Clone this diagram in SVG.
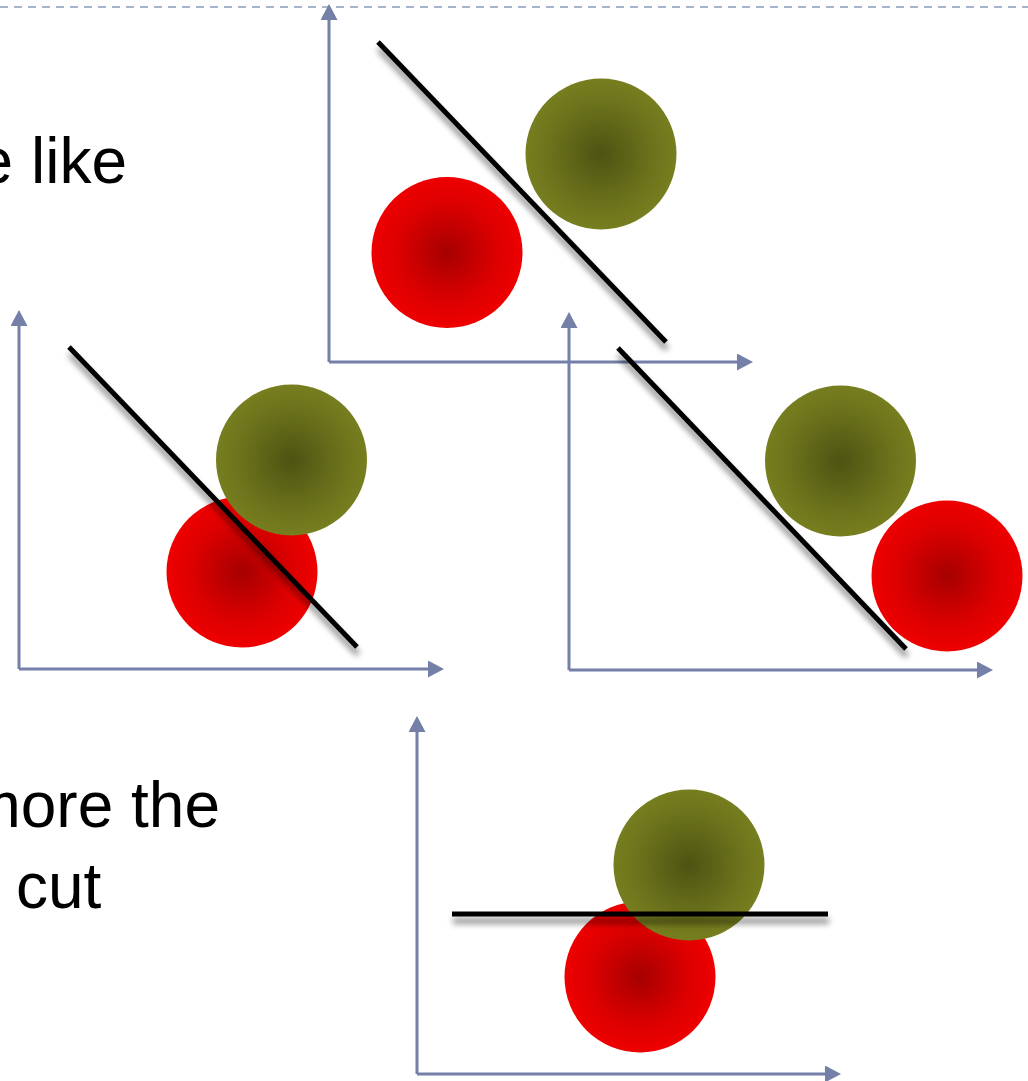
<svg xmlns="http://www.w3.org/2000/svg" width="1028" height="1081" viewBox="0 0 1028 1081">
  <style>
    .axis { stroke: #7480A8; stroke-width: 3; fill: none; marker-end: url(#arrow); }
    .sep { stroke: #000; stroke-width: 5; fill: none; filter: url(#shadow); }
    .red { fill: url(#gRed); }
    .green { fill: url(#gGreen); }
    .txt { font-family: "Liberation Sans", Arial, sans-serif; font-size: 64px; fill: #000; }
  </style>
  <defs>
    <marker id="arrow" viewBox="0 0 16 17" refX="5" refY="8.5" markerWidth="16" markerHeight="17" markerUnits="userSpaceOnUse" orient="auto">
      <path d="M0,0 L16,8.5 L0,17 z" fill="#7480A8"/>
    </marker>
    <radialGradient id="gRed" cx="0.5" cy="0.5" r="0.5">
      <stop offset="0" stop-color="#a60000"/>
      <stop offset="0.65" stop-color="#dc0000"/>
      <stop offset="1" stop-color="#ee0000"/>
    </radialGradient>
    <radialGradient id="gGreen" cx="0.5" cy="0.5" r="0.5">
      <stop offset="0" stop-color="#4d5312"/>
      <stop offset="0.65" stop-color="#6a711b"/>
      <stop offset="1" stop-color="#777e1f"/>
    </radialGradient>
    <filter id="shadow" x="0" y="0" width="1028" height="1081" filterUnits="userSpaceOnUse">
      <feGaussianBlur in="SourceAlpha" stdDeviation="3" result="b"/>
      <feOffset in="b" dx="1" dy="7" result="o"/>
      <feComponentTransfer in="o" result="s">
        <feFuncA type="linear" slope="0.5"/>
      </feComponentTransfer>
      <feMerge>
        <feMergeNode in="s"/>
        <feMergeNode in="SourceGraphic"/>
      </feMerge>
    </filter>
  </defs>

  <rect x="0" y="0" width="1028" height="1081" fill="#ffffff"/>

  <line id="guide" x1="0" y1="7" x2="1028" y2="7" stroke="#A5B6CC" stroke-width="2" stroke-dasharray="8,6"/>

  <g id="labels">
    <text class="txt" x="127" y="183" text-anchor="end">e like</text>
    <text class="txt" x="220" y="827" text-anchor="end">more the</text>
    <text class="txt" x="16" y="908">cut</text>
  </g>

  <g id="connectors">
    <path class="axis" d="M329,362 V15"/>
    <path class="axis" d="M329,362 H742"/>
    <path class="axis" d="M19,669 V321"/>
    <path class="axis" d="M19,669 H433"/>
    <path class="axis" d="M569,670 V323"/>
    <path class="axis" d="M569,670 H982"/>
    <path class="axis" d="M417,1074 V727"/>
    <path class="axis" d="M417,1074 H830"/>
  </g>

  <g id="panel-top">
    <circle class="red" cx="447" cy="252.5" r="75.5"/>
    <circle class="green" cx="601" cy="154" r="75.5"/>
    <line class="sep" x1="378" y1="42" x2="666" y2="342"/>
  </g>

  <g id="panel-left">
    <circle class="red" cx="242" cy="572" r="75.5"/>
    <circle class="green" cx="291.5" cy="460" r="75.5"/>
    <line class="sep" x1="69" y1="347" x2="357" y2="647"/>
  </g>

  <g id="panel-right">
    <circle class="green" cx="840.5" cy="461" r="75.5"/>
    <circle class="red" cx="947" cy="576" r="75.5"/>
    <line class="sep" x1="618" y1="348" x2="906" y2="649"/>
  </g>

  <g id="panel-bottom">
    <circle class="red" cx="640" cy="977" r="75.5"/>
    <circle class="green" cx="689" cy="865" r="75.5"/>
    <line class="sep" x1="452" y1="914" x2="828" y2="914"/>
  </g>
</svg>
